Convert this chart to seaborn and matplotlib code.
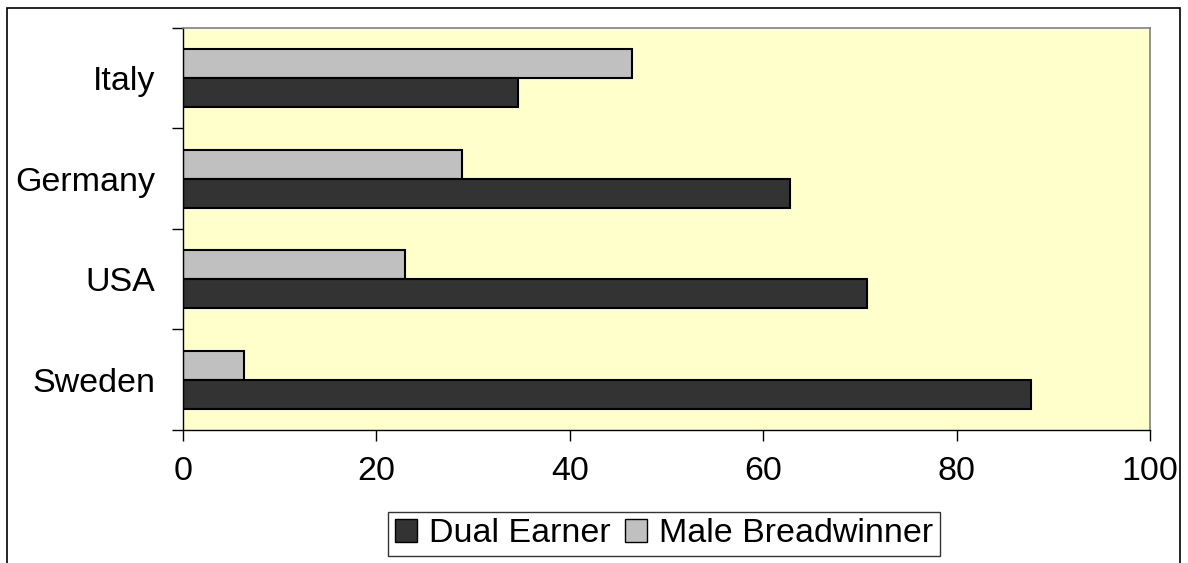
import pandas as pd
import seaborn as sns
import matplotlib.pyplot as plt
from matplotlib.patches import Rectangle, Patch

# Dados
countries = ["Italy", "Germany", "USA", "Sweden"]
dual_earner = [34.6, 62.8, 70.7, 87.7]
male_breadwinner = [46.4, 28.9, 23.0, 6.3]

df = pd.DataFrame({
    "country": countries * 2,
    "value": male_breadwinner + dual_earner,
    "type": ["Male Breadwinner"] * 4 + ["Dual Earner"] * 4,
})

sns.set_style("white")
plt.rcParams["font.family"] = ["Liberation Sans", "DejaVu Sans"]
plt.rcParams["text.color"] = "black"
plt.rcParams["xtick.color"] = "black"
plt.rcParams["ytick.color"] = "black"

fig = plt.figure(figsize=(11.88, 5.63), dpi=100)
ax = fig.add_axes([183 / 1188, 1 - 430 / 563, (1150 - 183) / 1188, (430 - 28) / 563])

colors = {"Male Breadwinner": "#c0c0c0", "Dual Earner": "#333333"}
sns.barplot(data=df, x="value", y="country", hue="type", order=countries,
            hue_order=["Male Breadwinner", "Dual Earner"], palette=colors,
            orient="h", width=0.58, edgecolor="black", linewidth=1.5,
            legend=False, ax=ax)

ax.set_facecolor("#ffffcc")
ax.set_xlim(0, 100)
ax.set_ylim(3.5, -0.5)
ax.set_xticks(range(0, 101, 20))
ax.set_xlabel("")
ax.set_ylabel("")

# marcas entre as categorias
ax.set_yticks([i - 0.5 for i in range(5)], minor=True)
ax.tick_params(axis="y", which="major", length=0, pad=20, labelsize=24.5)
ax.tick_params(axis="y", which="minor", length=8, width=1, color="black", direction="out", left=True)
ax.tick_params(axis="x", length=8, width=1, color="black", direction="out", bottom=True, pad=11, labelsize=24.5)

for s in ["left", "bottom"]:
    ax.spines[s].set_color("black")
    ax.spines[s].set_linewidth(1)
for s in ["top", "right"]:
    ax.spines[s].set_color("#808080")
    ax.spines[s].set_linewidth(1.2)

# moldura externa
fig.patches.append(Rectangle((7 / 1188, -0.1), (1180 - 7) / 1188, 1.1 - 8 / 563,
                             transform=fig.transFigure, fill=False,
                             edgecolor="black", linewidth=1.2))

handles = [Patch(facecolor="#333333", edgecolor="black", label="Dual Earner"),
           Patch(facecolor="#c0c0c0", edgecolor="black", label="Male Breadwinner")]
leg = fig.legend(handles=handles, loc="center", bbox_to_anchor=(664 / 1188, 1 - 534 / 563),
                 ncol=2, fontsize=24.5, frameon=True, fancybox=False, edgecolor="black",
                 handlelength=0.65, handleheight=0.65, handletextpad=0.35, columnspacing=0.4,
                 borderpad=0.2)
leg.get_frame().set_linewidth(1)

fig.savefig("out.png", dpi=100)
